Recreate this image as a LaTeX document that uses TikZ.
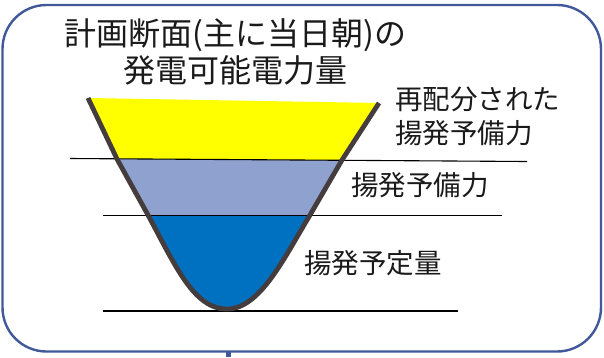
\documentclass[tikz,border=0pt]{standalone}
\usepackage{fontspec}
\newfontfamily\jp{Noto Sans CJK JP}
\definecolor{frameblue}{HTML}{41589A}
\definecolor{funnelgray}{HTML}{453D3D}
\definecolor{yel}{HTML}{FFFF00}
\definecolor{lblue}{HTML}{8FA2CF}
\definecolor{dblue}{HTML}{0070C0}
\definecolor{txt}{HTML}{1A1A1A}
\tikzset{
  frame/.style={draw=frameblue,line width=2.4pt,rounded corners=44pt},
  level/.style={draw=black,line width=1.1pt},
  title/.style={font=\jp\fontsize{32}{37}\selectfont,text=txt,align=center,inner sep=0pt},
  label/.style={font=\jp\fontsize{27.5}{34}\selectfont,text=txt,align=left,inner sep=0pt,anchor=west},
}
\begin{document}
\begin{tikzpicture}[x=1pt,y=-1pt]
\useasboundingbox (0,0) rectangle (604,357);
\fill[white] (0,0) rectangle (604,357);
% frame
\draw[frame] (2.5,5) rectangle (601,351.5);
\fill[frameblue] (225.5,351) rectangle (231,357);
% funnel
\def\funnelpath{(88,98) -- (117,159) -- (148,215) .. controls (176,267) and (194,309) .. (227,309) .. controls (260,309) and (284,258) .. (310,215) -- (342,160) -- (379,103)}
\begin{scope}
  \clip \funnelpath -- cycle;
  \fill[yel] (60,80) -- (540,80) -- (540,161.5) -- (60,158.5) -- cycle;
  \fill[lblue] (60,158.5) -- (540,161.5) -- (540,215.5) -- (60,215.5) -- cycle;
  \fill[dblue] (60,215.5) rectangle (540,330);
\end{scope}
% level lines
\coordinate (l1a) at (70,158.5); \coordinate (l1b) at (527,161.5);
\coordinate (l2a) at (103,215.5); \coordinate (l2b) at (502,215.5);
\coordinate (l3a) at (103,311); \coordinate (l3b) at (458,311);
\draw[level] (l1a) -- (l1b);
\draw[level] (l2a) -- (l2b);
\draw[level] (l3a) -- (l3b);
% funnel outline
\draw[funnelgray,line width=4.8pt,line join=round] \funnelpath;
% texts
\node[title] (t) at (235.5,51.5) {計画断面(主に当日朝)の\\発電可能電力量};
\node[label] (r1) at (395,116) {再配分された\\揚発予備力};
\node[label] (r2) at (351,185) {揚発予備力};
\node[label] (r3) at (304,263) {揚発予定量};
\end{tikzpicture}
\end{document}
